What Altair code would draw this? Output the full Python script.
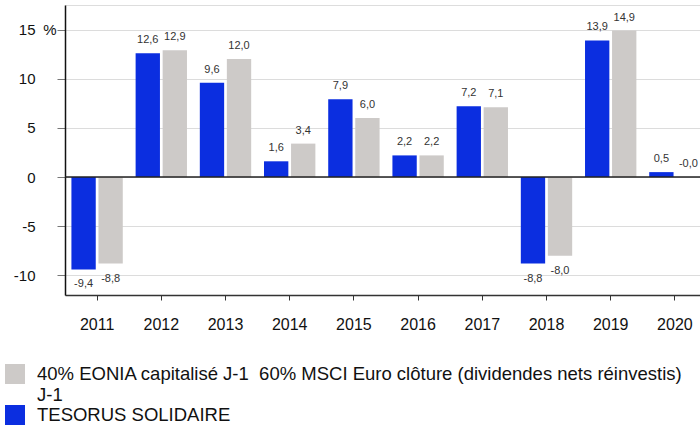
import altair as alt
import pandas as pd

years = ["2011", "2012", "2013", "2014", "2015", "2016", "2017", "2018", "2019", "2020"]
fund_name = "TESORUS SOLIDAIRE"
bench_name = "40% EONIA capitalisé J-1\u00a0 60% MSCI Euro clôture (dividendes nets réinvestis) J-1"
fund_values = [-9.4, 12.6, 9.6, 1.6, 7.9, 2.2, 7.2, -8.8, 13.9, 0.5]
bench_values = [-8.8, 12.9, 12.0, 3.4, 6.0, 2.2, 7.1, -8.0, 14.9, -0.0]
y_ticks = [-10, -5, 0, 5, 10, 15]

rows = []
for name, vals in [(fund_name, fund_values), (bench_name, bench_values)]:
    for y, v in zip(years, vals):
        rows.append({
            "year": y,
            "series": name,
            "value": v,
            "label": f"{v:.1f}".replace(".", ","),
            "neg": 1 if v < 0 else 0,
        })
df = pd.DataFrame(rows)
one = pd.DataFrame({"k": [0]})

FONT = "Liberation Sans, Arial, sans-serif"
BLUE = "#0b2ee0"
GRAY = "#cdcac8"

x_enc = alt.X(
    "year:N",
    title=None,
    scale=alt.Scale(range=[0, 642], paddingInner=0.2, paddingOuter=0.1),
    axis=alt.Axis(
        labelAngle=0, labelFontSize=16, labelColor="#111", labelFont=FONT,
        tickSize=5, tickColor="#333", domainColor="#333", domainWidth=1.5,
        labelPadding=16, grid=False,
    ),
)
y_scale = alt.Scale(domain=[-12, 17.5], nice=False, zero=False)
xoff = alt.XOffset("series:N", scale=alt.Scale(domain=[fund_name, bench_name], paddingInner=0.1))

bars = alt.Chart(df).mark_bar().encode(
    x=x_enc,
    xOffset=xoff,
    y=alt.Y(
        "value:Q",
        scale=y_scale,
        title=None,
        axis=alt.Axis(
            values=y_ticks, labelFontSize=15, labelColor="#111", labelFont=FONT,
            labelExpr="datum.value < 0 ? '-' + abs(datum.value) : '' + datum.value",
            tickSize=8, tickColor="#777", domainColor="#111", domainWidth=1.5,
            labelPadding=22, grid=True, gridColor="#dcdcdc", gridWidth=1.2,
        ),
    ),
    color=alt.Color(
        "series:N",
        scale=alt.Scale(domain=[bench_name, fund_name], range=[GRAY, BLUE]),
        legend=alt.Legend(
            title=None, orient="none", legendX=-60, legendY=359,
            direction="vertical", symbolType="square", symbolSize=400,
            symbolStrokeWidth=0, labelFontSize=18.5, labelFont=FONT, labelColor="#111",
            labelLimit=0, labelOffset=12, rowPadding=1,
            labelExpr=(
                "datum.label == '" + fund_name + "' ? datum.label : "
                "['40% EONIA capitalisé J-1\u00a0 60% MSCI Euro clôture (dividendes nets réinvestis)', 'J-1']"
            ),
        ),
    ),
)

pos_text = alt.Chart(df).transform_filter("datum.neg == 0").mark_text(
    baseline="alphabetic", dy=-10, fontSize=11, font=FONT, color="#333"
).encode(x=x_enc, xOffset=xoff, y=alt.Y("value:Q", scale=y_scale), text="label:N")

neg_text = alt.Chart(df).transform_filter("datum.neg == 1").mark_text(
    baseline="alphabetic", dy=18, fontSize=11, font=FONT, color="#333"
).encode(x=x_enc, xOffset=xoff, y=alt.Y("value:Q", scale=y_scale), text="label:N")

zero = alt.Chart(one).mark_rule(color="#222", strokeWidth=1.5).encode(y=alt.datum(0))

pct = alt.Chart(one).mark_text(
    text="%", align="center", baseline="middle", fontSize=15, font=FONT, color="#111"
).encode(x=alt.value(-15), y=alt.datum(15))

chart = alt.layer(bars, zero, pos_text, neg_text, pct).properties(
    width=635, height=290,
    autosize=alt.AutoSizeParams(type="none"),
    padding={"left": 65, "top": 5, "right": 0, "bottom": 133},
).configure_view(stroke=None).configure(background="white")

chart.save("out.html", embed_options={"renderer": "svg", "actions": False})
